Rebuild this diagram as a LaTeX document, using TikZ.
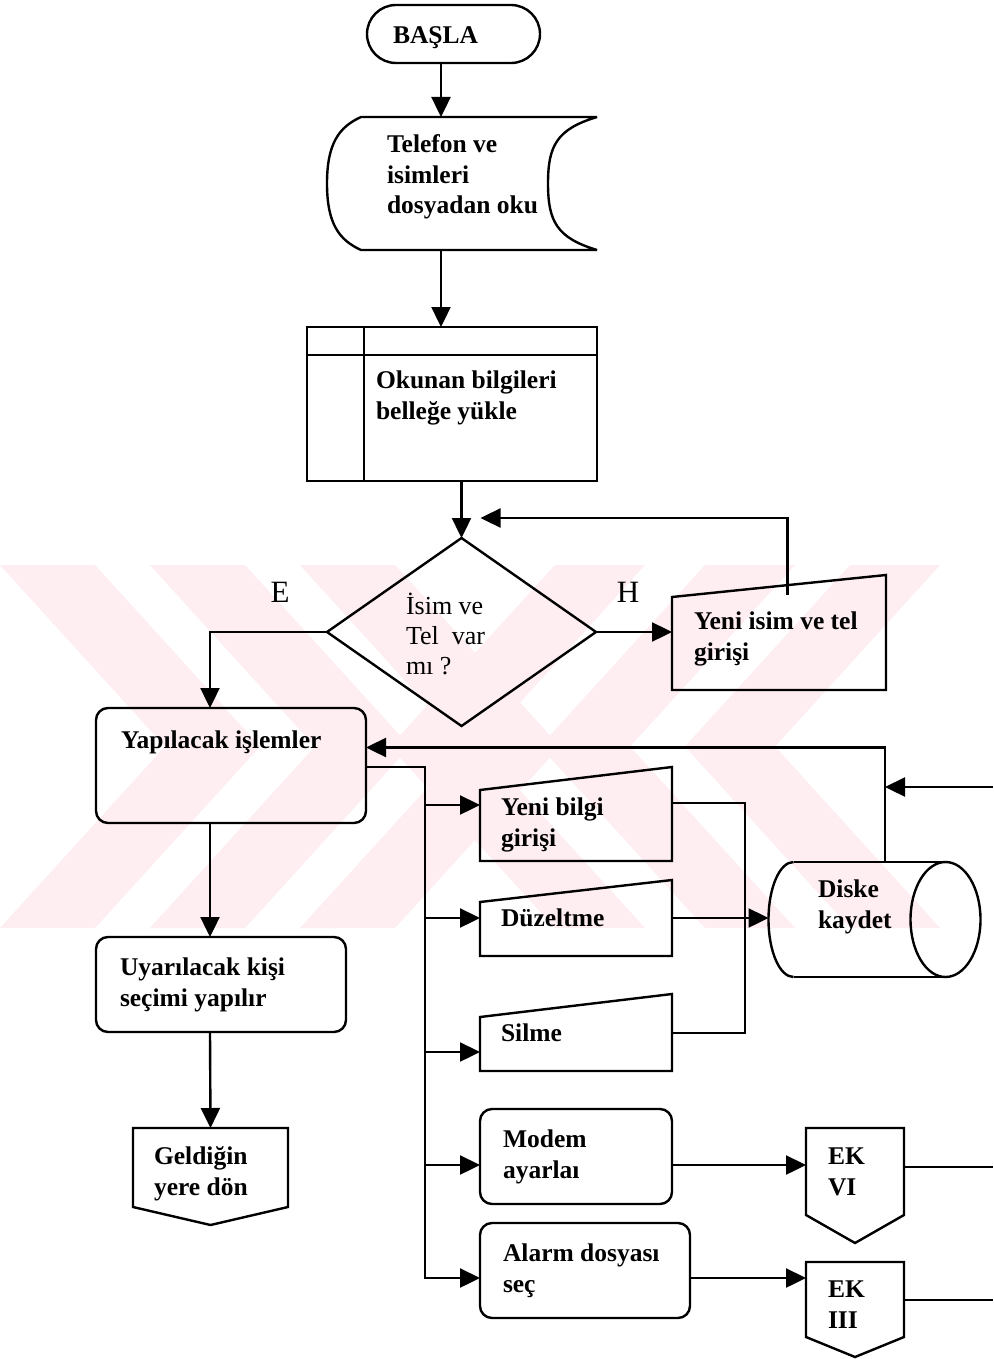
\documentclass[tikz,border=0pt]{standalone}
\usepackage{fontspec}
\setmainfont{Liberation Serif}
\usetikzlibrary{arrows.meta,shapes.geometric,calc}
\definecolor{wm}{RGB}{254,237,241}
\newcommand\lnstrut{\rule{0pt}{24pt}}

\begin{document}
\begin{tikzpicture}[x=1pt,y=-1pt,
  every node/.style={inner sep=0pt,outer sep=0pt},
  line width=2.4pt,
  flow/.style={-{Triangle[length=20pt,width=19pt]}},
  plain/.style={rectangle},
  rbox/.style={draw,rectangle,rounded corners=12pt},
  txt/.style={font=\fontsize{25.5}{31}\selectfont\bfseries,align=left,anchor=north west},
  qtxt/.style={font=\fontsize{26}{30}\selectfont,align=left,anchor=north west},
  yn/.style={font=\fontsize{31}{31}\selectfont}
]
\fill[white] (0,0) rectangle (993,1359);
\useasboundingbox (0,0) rectangle (993,1359);

% faint background stripes
\begin{scope}
  \clip (0,565) rectangle (993,928);
  \foreach \a in {0,150,300}
    \fill[wm] (\a,565) -- ++(95,0) -- ++(165,181.5) -- ++(-165,181.5) -- ++(-95,0) -- ++(165,-181.5) -- cycle;
  \foreach \b in {555,705,850}
    \fill[wm] (\b,565) -- ++(90,0) -- ++(-165,181.5) -- ++(165,181.5) -- ++(-90,0) -- ++(-165,-181.5) -- cycle;
\end{scope}

% start terminal
\node[draw,rectangle,rounded corners=29pt,minimum width=173pt,minimum height=58pt] (start) at (453.5,34) {};
\node[txt,anchor=base west] (startT) at (393,44) {BAŞLA};

% stored data: read file
\node[plain,minimum width=270pt,minimum height=133pt] (read) at (462,183.5) {};
\draw[miter limit=1.5] ($(read.north west)+(34,0)$) -- (read.north east)
   .. controls +(-40,12) and +(0,-38) .. ($(read.east)+(-49,0)$)
   .. controls +(0,38) and +(-40,-12) .. (read.south east)
   -- ($(read.south west)+(34,0)$)
   .. controls +(-22,-10) and +(0,40) .. (read.west)
   .. controls +(0,-40) and +(-22,10) .. ($(read.north west)+(34,0)$) -- cycle;
\node[txt] (readT) at (387,128) {\lnstrut Telefon ve\\isimleri\\dosyadan oku};

% internal storage: load into memory
\node[draw,rectangle,minimum width=290pt,minimum height=154pt] (load) at (452,404) {};
\draw ($(load.north west)+(57,0)$) -- ($(load.south west)+(57,0)$);
\draw ($(load.north west)+(0,28)$) -- ($(load.north east)+(0,28)$);
\node[txt] (loadT) at (376,364) {\lnstrut Okunan bilgileri\\belleğe yükle};

% decision
\node[draw,diamond,aspect=1.43,minimum width=269pt,minimum height=188pt] (dec) at (461.5,632) {};
\node[qtxt] (decT) at (406,590) {\lnstrut İsim ve\\Tel\ \ var\\mı ?};
\node[yn] (E) at (280,592) {E};
\node[yn] (H) at (628,592) {H};

% manual input: new name
\node[plain,minimum width=214pt,minimum height=115pt] (newname) at (779,632.5) {};
\draw (newname.south west) -- (newname.south east) -- (newname.north east) -- ($(newname.north west)+(0,22)$) -- cycle;
\node[txt] (newnameT) at (694,605) {\lnstrut Yeni isim ve tel\\girişi};

% operations
\node[rbox,minimum width=270pt,minimum height=115pt] (todo) at (231,765.5) {};
\node[txt] (todoT) at (121,724) {\lnstrut Yapılacak işlemler};

% manual inputs: edit operations
\node[plain,minimum width=192pt,minimum height=94pt] (yb) at (576,814) {};
\draw (yb.south west) -- (yb.south east) -- (yb.north east) -- ($(yb.north west)+(0,23)$) -- cycle;
\node[txt] (ybT) at (501,791) {\lnstrut Yeni bilgi\\girişi};

\node[plain,minimum width=192pt,minimum height=76pt] (fix) at (576,918) {};
\draw (fix.south west) -- (fix.south east) -- (fix.north east) -- ($(fix.north west)+(0,22)$) -- cycle;
\node[txt] (fixT) at (501,902) {\lnstrut Düzeltme};

\node[plain,minimum width=192pt,minimum height=77pt] (del) at (576,1032.5) {};
\draw (del.south west) -- (del.south east) -- (del.north east) -- ($(del.north west)+(0,23)$) -- cycle;
\node[txt] (delT) at (501,1017) {\lnstrut Silme};

% disk storage
\node[plain,minimum width=212pt,minimum height=115pt] (disk) at (874.5,919.5) {};
\path ($(disk.north west)+(25,0)$) coordinate (dA)
      (disk.west) coordinate (dW)
      ($(disk.south west)+(25,0)$) coordinate (dB)
      ($(disk.east)+(-35,0)$) coordinate (dC);
\draw (dA) -- (dA -| dC);
\draw (dB) -- (dB -| dC);
\draw (dC) ellipse [x radius=35, y radius=57.5];
\draw (dA) .. controls +(-13.8,0) and +(0,-31.8) .. (dW) .. controls +(0,31.8) and +(-13.8,0) .. (dB);
\node[txt] (diskT) at (818,873) {\lnstrut Diske\\kaydet};

% person selection
\node[rbox,minimum width=250pt,minimum height=95pt] (pick) at (221,984.5) {};
\node[txt] (pickT) at (120,951) {\lnstrut Uyarılacak kişi\\seçimi yapılır};

% return connector
\node[plain,minimum width=155pt,minimum height=97pt] (back) at (210.5,1176.5) {};
\draw (back.north west) -- (back.north east) -- ($(back.south east)+(0,-18)$) -- (back.south) -- ($(back.south west)+(0,-18)$) -- cycle;
\node[txt] (backT) at (154,1140) {\lnstrut Geldiğin\\yere dön};

% modem and alarm
\node[rbox,minimum width=192pt,minimum height=95pt] (modem) at (576,1156.5) {};
\node[txt] (modemT) at (503,1123) {\lnstrut Modem\\ayarlaı};
\node[rbox,minimum width=210pt,minimum height=95pt] (alarm) at (585,1270.5) {};
\node[txt] (alarmT) at (503,1237) {\lnstrut Alarm dosyası\\seç};

% off-page connectors
\node[plain,minimum width=98pt,minimum height=115pt] (ek6) at (855,1185.5) {};
\draw (ek6.north west) -- (ek6.north east) -- ($(ek6.south east)+(0,-28)$) -- (ek6.south) -- ($(ek6.south west)+(0,-28)$) -- cycle;
\node[txt] (ek6T) at (828,1140) {\lnstrut EK\\VI};
\node[plain,minimum width=98pt,minimum height=95pt] (ek3) at (855,1309.5) {};
\draw (ek3.north west) -- (ek3.north east) -- ($(ek3.south east)+(0,-20)$) -- (ek3.south) -- ($(ek3.south west)+(0,-20)$) -- cycle;
\node[txt] (ek3T) at (828,1273) {\lnstrut EK\\III};

% main flow
\draw[flow] ($(start.south)+(-12.5,0)$) -- ($(read.north)+(-21,0)$);
\draw[flow] ($(read.south)+(-21,0)$) -- ($(load.north)+(-11,0)$);
\draw[flow] (load.south -| dec.north) -- (dec.north);
\coordinate (loopin) at ($(dec.north)+(19,-20)$);
\draw[flow] ($(newname.north west)!0.54!(newname.north east)+(0,20)$) |- (loopin);
\draw[flow] (dec.west) -| ($(todo.north)+(-21,0)$);
\draw[flow] (dec.east) -- (dec.east -| newname.west);

% return from disk
\coordinate (up) at ($(disk.north)+(10.5,0)$);
\draw[flow] (up) |- ($(todo.east)+(0,-18)$);
\coordinate (inR) at (993,787);
\draw[flow] (inR) -- (inR -| up);

% branch bus
\coordinate (bus) at (425,767);
\coordinate (ybin) at ($(yb.west)+(0,-9)$);
\coordinate (fixin) at (fix.west);
\coordinate (delin) at ($(del.west)+(0,19.5)$);
\coordinate (modin) at ($(modem.west)+(0,8.5)$);
\coordinate (alin) at ($(alarm.west)+(0,7.5)$);
\draw[flow] ($(todo.east)+(0,1.5)$) -| (bus |- alin) -- (alin);
\draw[flow] (bus |- ybin) -- (ybin);
\draw[flow] (bus |- fixin) -- (fixin);
\draw[flow] (bus |- delin) -- (delin);
\draw[flow] (bus |- modin) -- (modin);

% collector to disk
\coordinate (col) at (745,0);
\draw ($(yb.east)+(0,-11)$) -| (col |- fixin);
\draw ($(del.east)+(0,0.5)$) -| (col |- fixin);
\draw[flow] (fix.east) -- (fix.east -| disk.west);

% left column
\draw[flow] ($(todo.south)+(-21,0)$) -- ($(pick.north)+(-11,0)$);
\draw[flow] ($(pick.south)+(-11,0)$) -- (back.north);

% to appendices
\draw[flow] (modin -| modem.east) -- (modin -| ek6.west);
\draw[flow] (alin -| alarm.east) -- (alin -| ek3.west);
\coordinate (out6) at (993,1167);
\draw (out6 -| ek6.east) -- (out6);
\coordinate (out3) at (993,1300);
\draw (out3 -| ek3.east) -- (out3);
\end{tikzpicture}
\end{document}
